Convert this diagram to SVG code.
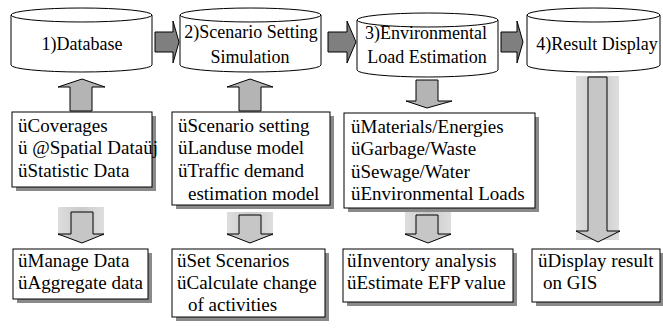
<svg xmlns="http://www.w3.org/2000/svg" width="663" height="329" viewBox="0 0 663 329">
<defs>
<style>
.cyl{fill:#fff;stroke:#000;stroke-width:1}
.cf{fill:none;stroke:#000;stroke-width:1}
.ct{font-family:'Liberation Serif','Times New Roman',serif;font-size:18px;fill:#000;text-anchor:middle}
.bt{font-family:'Liberation Serif','Times New Roman',serif;font-size:19px;fill:#000}
.box{fill:#fff;stroke:#000;stroke-width:1}
.sh{fill:#8a8a8a}
.ha{fill:#7f7f7f;stroke:#000;stroke-width:1}
.ua{fill:#b4b4b4;stroke:#000;stroke-width:1}
.bb{fill:url(#g)}
.da{fill:#c6c6c6;stroke:#000;stroke-width:1}
</style>
<linearGradient id="g" x1="0" x2="1" y1="0" y2="0">
<stop offset="0" stop-color="#dedede"/>
<stop offset="0.5" stop-color="#cacaca"/>
<stop offset="1" stop-color="#dedede"/>
</linearGradient>
</defs>
<rect width="663" height="329" fill="#fff"/>

<g id="connectors">
<polygon class="ha" points="155,32 173,32 173,21 179,42 173,63 173,52 155,52"/>
<polygon class="ha" points="328,32 347,32 347,21 356,42 347,63 347,52 328,52"/>
<polygon class="ha" points="501,32 517,32 517,21 523,42 517,63 517,52 501,52"/>
<polygon class="ua" points="70,111 70,87 58,87 82,79 105,87 92,87 92,111"/>
<polygon class="ua" points="239,111 239,87 227,87 250,79 273,87 261,87 261,111"/>
<polygon class="ua" points="416,80 438,80 438,101 452,101 427,108 406,101 416,101"/>
<rect class="bb" x="576" y="76" width="43" height="164"/>
<polygon class="da" points="588,77 607,77 607,231 620,231 598,242 576,231 588,231"/>
<rect class="bb" x="58" y="207" width="46" height="29"/>
<polygon class="da" points="71,212 93,212 93,234 104,234 82,243 58,234 71,234"/>
<rect class="bb" x="227" y="212" width="46" height="24"/>
<polygon class="da" points="239,215 261,215 261,234 273,234 250,243 227,234 239,234"/>
<rect class="bb" x="405" y="212" width="46" height="24"/>
<polygon class="da" points="416,215 438,215 438,234 451,234 428,243 405,234 416,234"/>
</g>

<g id="cyl1">
<path class="cyl" d="M11,15 L11,65 A70.5,7 0 0 0 152,65 L152,15 A70.5,7 0 0 0 11,15 Z"/>
<path class="cf" d="M11,15 A70.5,7 0 0 0 152,15"/>
<text class="ct" x="82" y="50">1)Database</text>
</g>
<g id="cyl2">
<path class="cyl" d="M180,15 L180,65 A70.5,7 0 0 0 321,65 L321,15 A70.5,7 0 0 0 180,15 Z"/>
<path class="cf" d="M180,15 A70.5,7 0 0 0 321,15"/>
<text class="ct" x="251" y="38">2)Scenario Setting</text>
<text class="ct" x="250" y="63">Simulation</text>
</g>
<g id="cyl3">
<path class="cyl" d="M357,20 L357,70 A70.5,7 0 0 0 498,70 L498,20 A70.5,7 0 0 0 357,20 Z"/>
<path class="cf" d="M357,20 A70.5,7 0 0 0 498,20"/>
<text class="ct" x="426" y="39">3)Environmental</text>
<text class="ct" x="427" y="63">Load Estimation</text>
</g>
<g id="cyl4">
<path class="cyl" d="M527,15 L527,65 A66.5,7 0 0 0 660,65 L660,15 A66.5,7 0 0 0 527,15 Z"/>
<path class="cf" d="M527,15 A66.5,7 0 0 0 660,15"/>
<text class="ct" x="597" y="50">4)Result Display</text>
</g>

<g id="box1">
<rect class="sh" x="16" y="116" width="140" height="75"/>
<rect class="box" x="12" y="112" width="140" height="75"/>
<text class="bt" x="18" y="132">üCoverages</text>
<text class="bt" x="18" y="154">ü @Spatial Dataüj</text>
<text class="bt" x="18" y="177">üStatistic Data</text>
</g>
<g id="box2">
<rect class="sh" x="176" y="116" width="158" height="93"/>
<rect class="box" x="172" y="112" width="158" height="93"/>
<text class="bt" x="178" y="132">üScenario setting</text>
<text class="bt" x="178" y="154">üLanduse model</text>
<text class="bt" x="178" y="177">üTraffic demand</text>
<text class="bt" x="188" y="200">estimation model</text>
</g>
<g id="box3">
<rect class="sh" x="348" y="117" width="191" height="95"/>
<rect class="box" x="344" y="113" width="191" height="95"/>
<text class="bt" x="351" y="133">üMaterials/Energies</text>
<text class="bt" x="351" y="155">üGarbage/Waste</text>
<text class="bt" x="351" y="178">üSewage/Water</text>
<text class="bt" x="351" y="200">üEnvironmental Loads</text>
</g>

<g id="box1b">
<rect class="sh" x="17" y="253" width="135" height="50"/>
<rect class="box" x="13" y="249" width="135" height="50"/>
<text class="bt" x="18" y="267">üManage Data</text>
<text class="bt" x="18" y="289">üAggregate data</text>
</g>
<g id="box2b">
<rect class="sh" x="176" y="253" width="153" height="68"/>
<rect class="box" x="172" y="249" width="153" height="68"/>
<text class="bt" x="177" y="267">üSet Scenarios</text>
<text class="bt" x="177" y="289">üCalculate change</text>
<text class="bt" x="188" y="311">of activities</text>
</g>
<g id="box3b">
<rect class="sh" x="347" y="253" width="170" height="53"/>
<rect class="box" x="343" y="249" width="170" height="53"/>
<text class="bt" x="347" y="267">üInventory analysis</text>
<text class="bt" x="347" y="289">üEstimate EFP value</text>
</g>
<g id="box4b">
<rect class="sh" x="536" y="253" width="128" height="53"/>
<rect class="box" x="532" y="249" width="128" height="53"/>
<text class="bt" x="538" y="267">üDisplay result</text>
<text class="bt" x="543" y="289">on GIS</text>
</g>
</svg>
